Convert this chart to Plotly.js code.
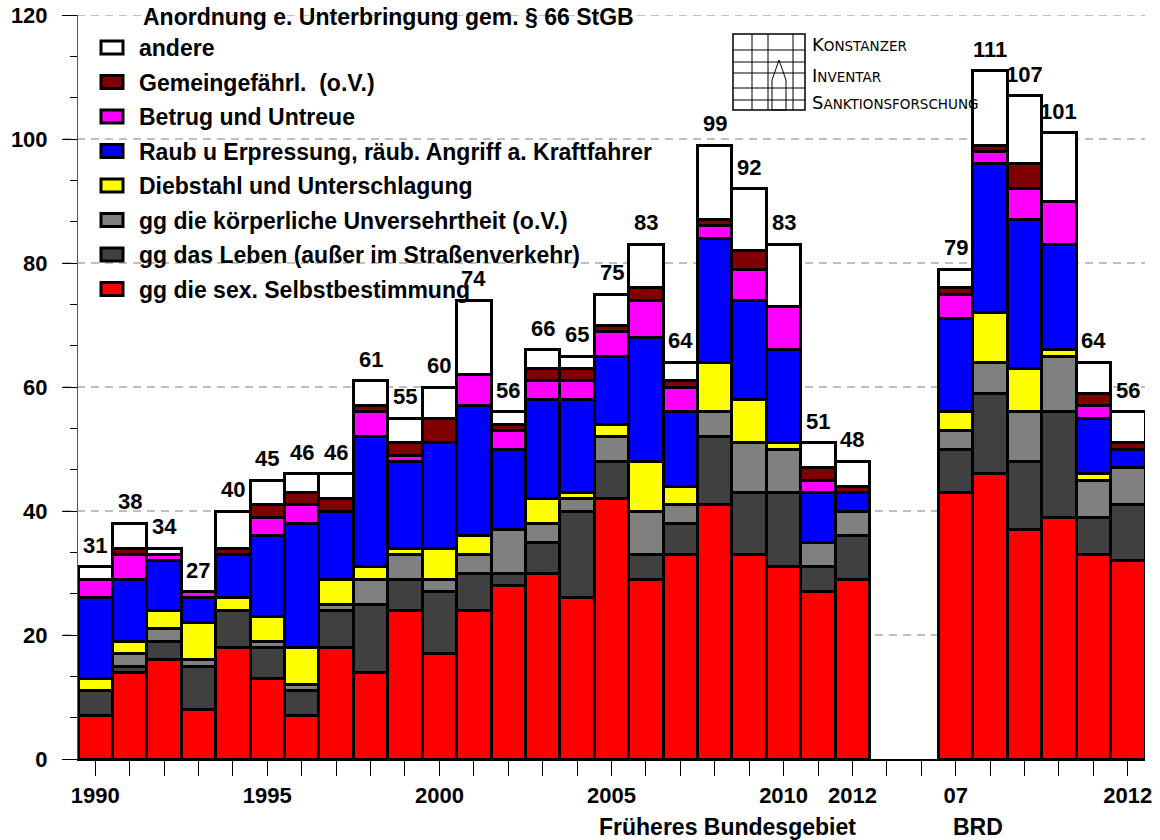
<!DOCTYPE html>
<html>
<head>
<meta charset="utf-8">
<script src="https://cdn.plot.ly/plotly-3.0.1.min.js"></script>
<style>
html,body{margin:0;padding:0;background:#fff;}
#chart{width:1160px;height:840px;}
</style>
</head>
<body>
<div id="chart"></div>
<script>
// slots: 23 years "Früheres Bundesgebiet", 2 empty slots, 6 years BRD
const categories = ['1990','1991','1992','1993','1994','1995','1996','1997','1998','1999',
  '2000','2001','2002','2003','2004','2005','2006','2007','2008','2009','2010','2011','2012',
  'gap1','gap2',
  'BRD2007','BRD2008','BRD2009','BRD2010','BRD2011','BRD2012'];
const tickLabels = ['1990','','','','','1995','','','','',
  '2000','','','','','2005','','','','','2010','','2012',
  '','',
  '07','','','','','2012'];

const seriesNames = [
  'gg die sex. Selbstbestimmung',
  'gg das Leben (außer im Straßenverkehr)',
  'gg die körperliche Unversehrtheit (o.V.)',
  'Diebstahl und Unterschlagung',
  'Raub u Erpressung, räub. Angriff a. Kraftfahrer',
  'Betrug und Untreue',
  'Gemeingefährl.  (o.V.)',
  'andere'
];
const seriesColors = ['#FF0000','#404040','#808080','#FFFF00','#0000FF','#FF00FF','#800000','#FFFFFF'];

const sexSelbst = [7,14,16,8,18,13,7,18,14,24,17,24,28,30,26,42,29,33,41,33,31,27,29, null,null, 43,46,37,39,33,32];
const leben     = [4,1,3,7,6,5,4,6,11,5,10,6,2,5,14,6,4,5,11,10,12,4,7, null,null, 7,13,11,17,6,9];
const koerper   = [0,2,2,1,0,1,1,1,4,4,2,3,7,3,2,4,7,3,4,8,7,4,4, null,null, 3,5,8,9,6,6];
const diebstahl = [2,2,3,6,2,4,6,4,2,1,5,3,0,4,1,2,8,3,8,7,1,0,0, null,null, 3,8,7,1,1,0];
const raub      = [13,10,8,4,7,13,20,11,21,14,17,21,13,16,15,11,20,12,20,16,15,8,3, null,null, 15,24,24,17,9,3];
const betrug    = [3,4,1,1,0,3,3,0,4,1,0,5,3,3,3,4,6,4,2,5,7,2,0, null,null, 4,2,5,7,2,0];
const gemein    = [0,1,0,0,1,2,2,2,1,2,4,0,1,2,2,1,2,1,1,3,0,2,1, null,null, 1,1,4,0,2,1];
const andere    = [2,4,1,0,6,4,3,4,4,4,5,12,2,3,2,5,7,3,12,10,10,4,4, null,null, 3,12,11,11,5,5];
const totals    = [31,38,34,27,40,45,46,46,61,55,60,74,56,66,65,75,83,64,99,92,83,51,48, null,null, 79,111,107,101,64,56];

const seriesValues = [sexSelbst, leben, koerper, diebstahl, raub, betrug, gemein, andere];
const slots = categories.map((c, i) => i);

const FONT = 'Liberation Sans, Arial, sans-serif';

const traces = seriesValues.map((vals, k) => ({
  type: 'bar',
  name: seriesNames[k],
  legendgroup: 'g' + k,
  legendrank: 100 - k,
  x: slots,
  y: vals,
  customdata: categories,
  marker: {color: seriesColors[k], line: {color: '#000000', width: 3}},
  hovertemplate: '%{customdata}: %{y}<extra>' + seriesNames[k] + '</extra>'
}));

const annotations = [];
slots.forEach((s, i) => {
  if (totals[i] == null) return;
  annotations.push({
    x: s, y: totals[i], xref: 'x', yref: 'y',
    text: '<b>' + totals[i] + '</b>',
    showarrow: false, yanchor: 'bottom', yshift: 7,
    font: {family: FONT, size: 22, color: '#000'}
  });
});
annotations.push({
  xref: 'paper', yref: 'paper', x: 0.609, y: -0.0914, xanchor: 'center', yanchor: 'middle',
  text: '<b>Früheres Bundesgebiet</b>', showarrow: false, font: {family: FONT, size: 23, color: '#000'}
});
annotations.push({
  xref: 'paper', yref: 'paper', x: 0.8435, y: -0.0914, xanchor: 'center', yanchor: 'middle',
  text: '<b>BRD</b>', showarrow: false, font: {family: FONT, size: 23, color: '#000'}
});
// logo text
const px = v => (v - 78) / 1067;
const py = v => (759 - v) / 744;
[['K','ONSTANZER',45],['I','NVENTAR',75],['S','ANKTIONSFORSCHUNG',102]].forEach(t => {
  annotations.push({
    xref: 'paper', yref: 'paper', x: px(810), y: py(t[2]), xanchor: 'left', yanchor: 'middle',
    text: '<span style="font-size:18px">' + t[0] + '</span>' + t[1], showarrow: false,
    font: {family: 'DejaVu Sans, sans-serif', size: 13.5, color: '#000'}
  });
});

const shapes = [];
[20,40,60,80,100,120].forEach(v => {
  shapes.push({type: 'line', xref: 'paper', yref: 'y', x0: px(63), x1: 1, y0: v, y1: v,
    line: {color: '#808080', width: 1, dash: '8px,6px'}, layer: 'below'});
});
// logo grid
const lg = {color: '#000', width: 1};
shapes.push({type: 'rect', xref: 'paper', yref: 'paper', x0: px(733), x1: px(805), y0: py(110), y1: py(34), line: {color:'#000', width: 1.5}});
[752, 768, 793].forEach(xv => shapes.push({type:'line', xref:'paper', yref:'paper', x0:px(xv), x1:px(xv), y0:py(110), y1:py(34), line: lg}));
[50, 62, 73, 88, 100].forEach(yv => shapes.push({type:'line', xref:'paper', yref:'paper', x0:px(733), x1:px(805), y0:py(yv), y1:py(yv), line: lg}));
shapes.push({type:'path', xref:'paper', yref:'paper',
  path: 'M' + px(772) + ',' + py(110) + ' L' + px(772) + ',' + py(80) + ' L' + px(779) + ',' + py(60) + ' L' + px(786) + ',' + py(80) + ' L' + px(786) + ',' + py(110) + ' Z',
  line: {color:'#000', width: 1}, fillcolor: 'rgba(0,0,0,0)'});

const layout = {
  width: 1160, height: 840,
  paper_bgcolor: '#fff', plot_bgcolor: 'rgba(0,0,0,0)',
  margin: {l: 78, r: 15, t: 15, b: 81},
  barmode: 'stack', bargap: 0,
  font: {family: FONT, size: 20, color: '#000'},
  title: {text: '<b>Anordnung e. Unterbringung gem. § 66 StGB</b>', x: 143/1160, xref: 'container', xanchor: 'left',
    y: 1 - 17/840, yref: 'container', yanchor: 'middle', font: {family: FONT, size: 23, color: '#000'}},
  showlegend: true,
  legend: {x: px(99), y: py(26), xanchor: 'left', yanchor: 'top', xref: 'paper', yref: 'paper',
    bgcolor: 'rgba(0,0,0,0)', borderwidth: 0,
    traceorder: 'grouped', tracegroupgap: 1.6,
    font: {family: FONT, size: 23, color: '#000', weight: 'bold'}},
  xaxis: {
    type: 'linear', range: [-0.5, 30.5],
    tickmode: 'array', tickvals: slots, ticktext: tickLabels,
    ticks: 'outside', ticklen: 15, tickcolor: '#000', tickwidth: 1,
    showline: true, linecolor: '#000', linewidth: 1.5,
    showgrid: false, zeroline: false, fixedrange: true,
    tickfont: {family: FONT, size: 22, color: '#000', weight: 'bold'},
    ticklabelstandoff: 1
  },
  yaxis: {
    range: [0, 120], tickmode: 'array', tickvals: [0,20,40,60,80,100,120],
    ticks: 'outside', ticklen: 15, tickcolor: '#000', tickwidth: 1,
    minor: {tickmode: 'linear', tick0: 0, dtick: 20/3, ticks: 'outside', ticklen: 7, tickcolor: '#000', showgrid: false},
    showline: true, linecolor: '#555', linewidth: 1,
    showgrid: false, zeroline: false, fixedrange: true,
    tickfont: {family: FONT, size: 22, color: '#000', weight: 'bold'},
    ticklabelstandoff: 10
  },
  annotations: annotations,
  shapes: shapes
};

Plotly.newPlot('chart', traces, layout, {displayModeBar: false, staticPlot: true}).then(() => {
  document.querySelectorAll('.legend .legendpoints path').forEach(p => {
    p.setAttribute('d', 'M4,6.5H-18V-6.5H4Z');
  });
});
</script>
</body>
</html>
